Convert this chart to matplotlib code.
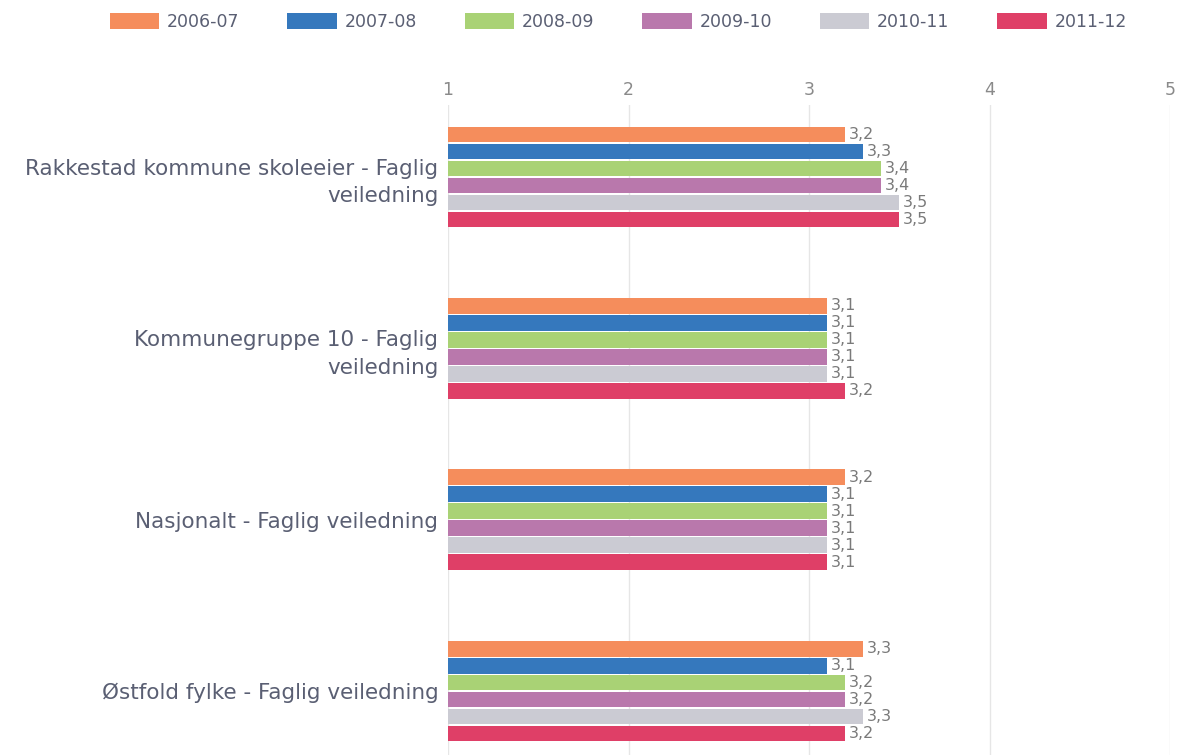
import matplotlib
matplotlib.use("Agg")
import matplotlib.pyplot as plt
from matplotlib.patches import Patch

categories = ["Rakkestad kommune skoleeier - Faglig\nveiledning",
              "Kommunegruppe 10 - Faglig\nveiledning",
              "Nasjonalt - Faglig veiledning",
              "Østfold fylke - Faglig veiledning"]
series = ["2006-07", "2007-08", "2008-09", "2009-10", "2010-11", "2011-12"]
values = {
    "2006-07": [3.2, 3.1, 3.2, 3.3],
    "2007-08": [3.3, 3.1, 3.1, 3.1],
    "2008-09": [3.4, 3.1, 3.1, 3.2],
    "2009-10": [3.4, 3.1, 3.1, 3.2],
    "2010-11": [3.5, 3.1, 3.1, 3.3],
    "2011-12": [3.5, 3.2, 3.1, 3.2],
}
colors = ["#F58D5C", "#3578BD", "#A9D275", "#B978AC", "#CBCBD3", "#DF3F67"]
xticks = [1, 2, 3, 4, 5]

W, H = 1178, 755
fig = plt.figure(figsize=(W / 100, H / 100), dpi=100)
ax = fig.add_axes([448 / W, 0, 722 / W, 1 - 105 / H])

step = 0.099
bh = 0.092
txt_color = "#5a5f73"
for i, s in enumerate(series):
    ys = [c + (i - 2.5) * step for c in range(len(categories))]
    vals = values[s]
    ax.barh(ys, [v - 1 for v in vals], left=1, height=bh, color=colors[i], zorder=3)
    for y, v in zip(ys, vals):
        ax.text(v + 0.02, y, f"{v:.1f}".replace(".", ","), va="center", ha="left",
                fontsize=11.5, color="#7a7a7a", zorder=4)

ax.set_xlim(1, 5)
ax.set_ylim(3.373, -0.42)
ax.set_xticks(xticks)
ax.xaxis.tick_top()
ax.tick_params(axis="x", length=0, labelsize=12.5, colors="#8a8a8a", pad=4)
ax.set_yticks(range(len(categories)))
ax.set_yticklabels(categories, fontsize=15.5, color=txt_color, linespacing=1.45)
ax.tick_params(axis="y", length=0, pad=7)
ax.grid(axis="x", color="#e6e6e6", linewidth=1, zorder=0)
for sp in ax.spines.values():
    sp.set_visible(False)

handles = [Patch(facecolor=c, label=s) for c, s in zip(colors, series)]
fig.legend(handles=handles, loc="center left", bbox_to_anchor=(94 / W, 1 - 22 / H),
           ncol=6, frameon=False, fontsize=12.5, handlelength=2.85, handleheight=1.05,
           columnspacing=2.75, handletextpad=0.45, labelcolor=txt_color)

fig.savefig("out.png", dpi=100)
